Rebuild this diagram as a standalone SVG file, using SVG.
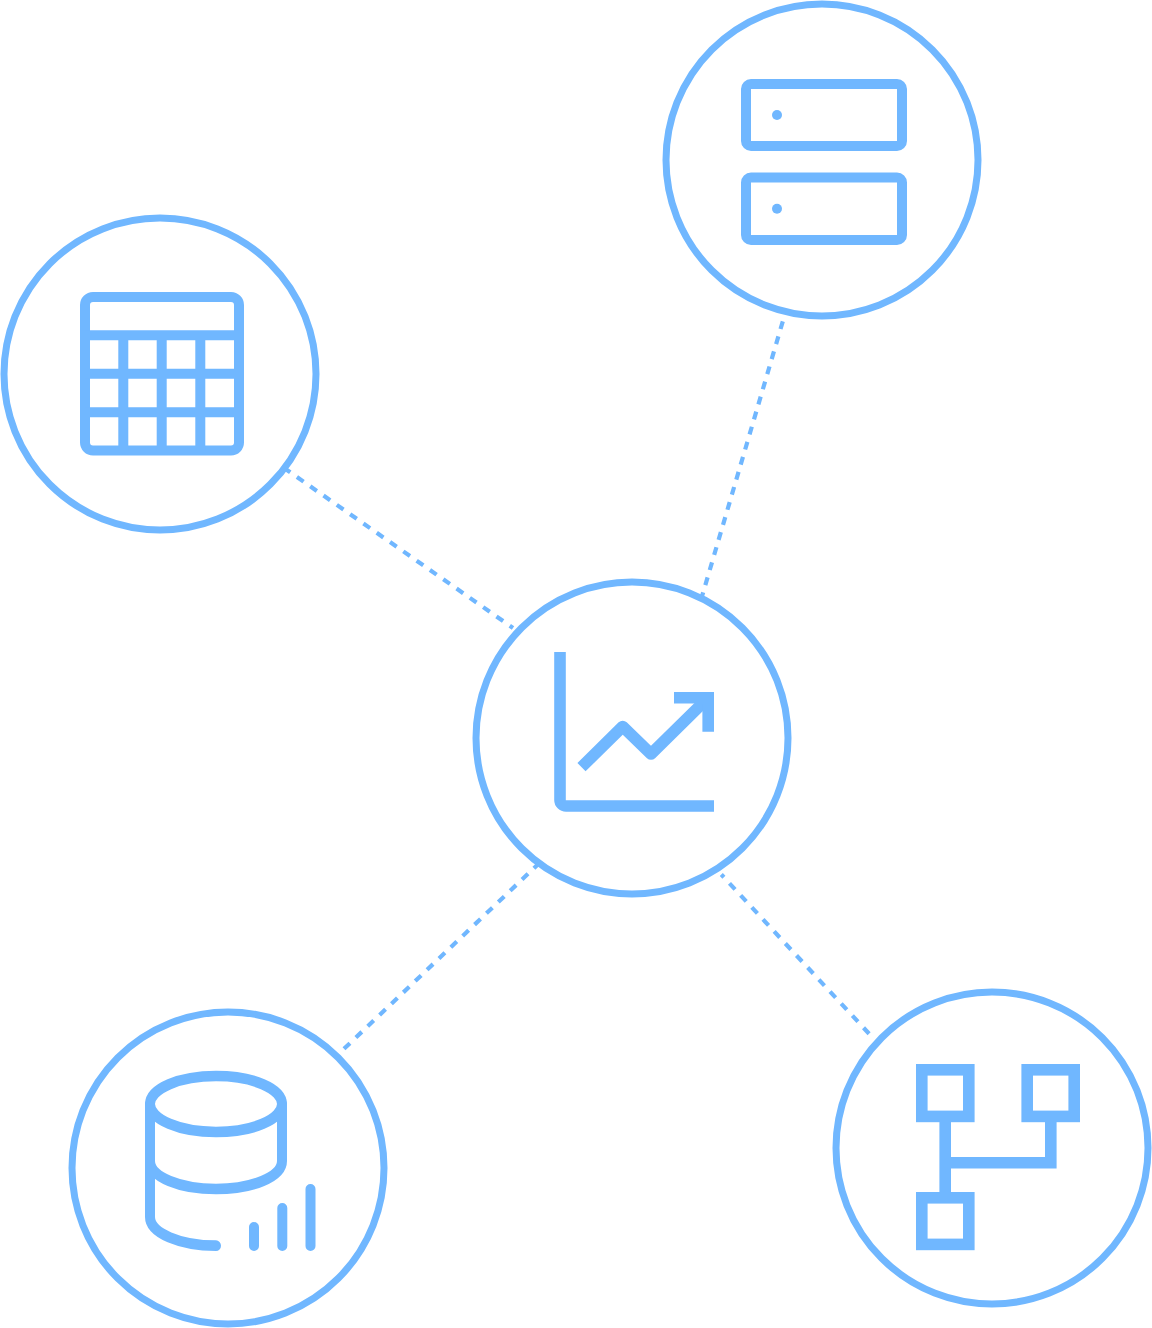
<svg xmlns="http://www.w3.org/2000/svg" width="1152" height="1328" viewBox="0 0 1152 1328">
<style>
.c{fill:#fff;stroke:#70b7ff;stroke-width:7}
.i{fill:none;stroke:#70b7ff;stroke-width:10}
.j{fill:none;stroke:#70b7ff;stroke-width:11.6}
.d{fill:none;stroke:#70b7ff;stroke-width:4.2}
.f{fill:#70b7ff}
</style>
<rect width="1152" height="1328" fill="#fff"/>
<g id="connectors">
<path class="d" stroke-dasharray="8 7.7" d="M782.8 321.3L698 610"/>
<path class="d" stroke-dasharray="8.1 8.13" d="M283.6 467.7L513 628"/>
<path class="d" stroke-dasharray="8.2 8.18" d="M344 1048.800L539.6 862.800"/>
<path class="d" stroke-dasharray="8.2 8.22" stroke-dashoffset="4.4" d="M721.3 874.500L869.100 1033.700"/>
</g>
<g id="node-server">
<circle class="c" cx="822" cy="160" r="156"/>
<rect class="i" x="746" y="84" width="156" height="62" rx="5"/>
<rect class="i" x="746" y="177.500" width="156" height="62.500" rx="5"/>
<circle class="f" cx="777" cy="115" r="5"/>
<circle class="f" cx="777" cy="208.700" r="5"/>
</g>
<g id="node-table">
<circle class="c" cx="160" cy="374" r="156"/>
<rect class="i" x="85" y="297" width="154" height="153.500" rx="8"/>
<path class="i" d="M85 335.300H239M85 373.700H239M85 412.200H239M123.300 335.300V450.500M161.700 335.300V450.500M200.300 335.300V450.500"/>
</g>
<g id="node-chart">
<circle class="c" cx="632" cy="738" r="156"/>
<path class="j" d="M560 652V800A6 6 0 0 0 566 806H714"/>
<path class="j" stroke-linejoin="round" d="M581.500 767.200L622.700 726.500L651 754L708 697.800"/>
<path class="j" d="M674 697.800H708.200V731.700"/>
</g>
<g id="node-database">
<circle class="c" cx="228" cy="1168" r="156"/>
<g transform="translate(0 1104) scale(1 1.07)">
<ellipse class="i" cx="216" cy="0" rx="66" ry="26.170"/>
<path class="i" stroke-linecap="round" d="M282 0V53.270C282 68.200 252 79.440 216 79.440C180 79.440 150 68.200 150 53.270"/>
<path class="i" stroke-linecap="round" d="M150 0V105.600C150 120.600 180 132.400 216 132.400"/>
</g>
<path class="i" stroke-linecap="round" d="M254 1227V1246M282.300 1208V1246M310.500 1189V1246"/>
</g>
<g id="node-network">
<circle class="c" cx="992" cy="1148" r="156"/>
<rect class="j" x="921.800" y="1069.800" width="47" height="46.600"/>
<rect class="j" x="1027.200" y="1069.800" width="47" height="46.600"/>
<rect class="j" x="921.800" y="1197.800" width="47" height="46.600"/>
<path class="j" d="M945.200 1122V1192M945.200 1162.700H1050.800V1122"/>
</g>
</svg>
